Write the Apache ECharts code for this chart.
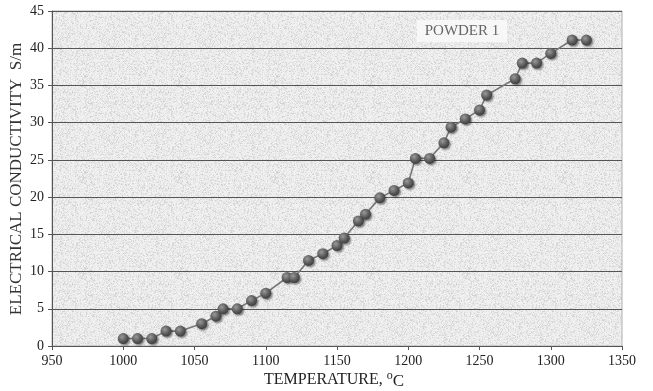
<!DOCTYPE html>
<html>
<head>
<meta charset="utf-8">
<script src="https://cdn.jsdelivr.net/npm/echarts@6/dist/echarts.min.js"></script>
<style>
html,body{margin:0;padding:0;background:#fff;}
#c{width:653px;height:391px;}
</style>
</head>
<body>
<div id="c"></div>
<script>
// Data
var temperature = [1000,1010,1020,1030,1040,1055,1065,1070,1080,1090,1100,1115,1120,1130,1140,1150,1155,1165,1170,1180,1190,1200,1205,1215,1225,1230,1240,1250,1255,1275,1280,1290,1300,1315,1325];
var conductivity = [1.0,1.0,1.0,2.0,2.0,3.0,4.0,5.0,5.0,6.1,7.1,9.2,9.2,11.5,12.4,13.5,14.5,16.8,17.7,19.9,20.9,21.9,25.2,25.2,27.3,29.4,30.5,31.7,33.7,35.9,38.0,38.0,39.3,41.1,41.1];
var xTicks = [950,1000,1050,1100,1150,1200,1250,1300,1350];
var yTicks = [0,5,10,15,20,25,30,35,40,45];
var seriesLabel = 'POWDER 1';
var xTitle = 'TEMPERATURE, ';
var yTitle = 'ELECTRICAL CONDUCTIVITY  S/m';

var points = temperature.map(function(t,i){return [t, conductivity[i]];});

// speckled background texture (deterministic hash noise)
function makeTexture(){
  var cv = document.createElement('canvas');
  cv.width = 96; cv.height = 96;
  var ctx = cv.getContext('2d');
  var img = ctx.createImageData(96,96);
  for (var y=0;y<96;y++){
    for (var x=0;x<96;x++){
      var h = Math.sin(x*12.9898 + y*78.233) * 43758.5453;
      h = h - Math.floor(h);
      var v = 241 - Math.round(h*h*h*34);
      var k = (y*96+x)*4;
      img.data[k]=v; img.data[k+1]=v; img.data[k+2]=v; img.data[k+3]=255;
    }
  }
  ctx.putImageData(img,0,0);
  return cv;
}

var chart = echarts.init(document.getElementById('c'), null, {renderer:'canvas'});
var serif = '"Liberation Serif", "Times New Roman", serif';
chart.setOption({
  animation:false,
  backgroundColor:'#ffffff',
  grid:{left:52, right:31, top:11, bottom:45, show:true, outerBoundsMode:'none', containLabel:false,
        backgroundColor:{image: makeTexture(), repeat:'repeat'},
        borderColor:'#b0b0b0', borderWidth:1},
  xAxis:{
    type:'value', min:950, max:1350, interval:50,
    axisLine:{show:true, onZero:false, lineStyle:{color:'#555', width:1}},
    axisTick:{show:true, inside:false, length:4, lineStyle:{color:'#555'}},
    splitLine:{show:false},
    axisLabel:{color:'#222', fontFamily:serif, fontSize:14, margin:8,
      formatter:function(v){return xTicks.indexOf(v)>=0 ? String(v) : '';}}
  },
  yAxis:{
    type:'value', min:0, max:45, interval:5,
    axisLine:{show:true, lineStyle:{color:'#555', width:1}},
    axisTick:{show:true, inside:false, length:4, lineStyle:{color:'#555'}},
    splitLine:{show:true, lineStyle:{color:'#555', width:1}},
    axisLabel:{color:'#222', fontFamily:serif, fontSize:14, margin:8,
      formatter:function(v){return yTicks.indexOf(v)>=0 ? String(v) : '';}}
  },
  graphic:[
    {type:'text', x:17, y:179, rotation:Math.PI/2,
     style:{text:yTitle, fill:'#333', font:'17px "Liberation Serif", serif', align:'center', verticalAlign:'middle'}},
    {type:'text', x:334, y:380,
     style:{text:xTitle + '{s|o}{c|C}', fill:'#222', font:'16px "Liberation Serif", serif', align:'center', verticalAlign:'middle',
       rich:{
         s:{fontFamily:serif, fontSize:12, fill:'#222', verticalAlign:'top', lineHeight:20},
         c:{fontFamily:serif, fontSize:17, fill:'#222', verticalAlign:'bottom', lineHeight:20, padding:[6,0,0,0]}
       }}},
    {type:'group', left:417, top:20,
    children:[
      {type:'rect', shape:{x:0,y:0,width:90,height:22}, style:{fill:'#f7f7f7'}},
      {type:'text', style:{x:45, y:11, text:seriesLabel, fill:'#666', font:'15px "Liberation Serif", serif', align:'center', verticalAlign:'middle'}}
    ]
  }],
  series:[{
    type:'line', data:points, symbol:'circle', symbolSize:11,
    lineStyle:{color:'#777', width:1.6},
    itemStyle:{
      color:{type:'radial', x:0.38, y:0.35, r:0.7,
        colorStops:[{offset:0,color:'#9a9a9a'},{offset:0.6,color:'#5a5a5a'},{offset:1,color:'#3a3a3a'}]},
      borderWidth:0,
      shadowColor:'rgba(0,0,0,0.45)', shadowBlur:2, shadowOffsetX:1.5, shadowOffsetY:1.5
    },
    emphasis:{disabled:true}
  }]
});
</script>
</body>
</html>
